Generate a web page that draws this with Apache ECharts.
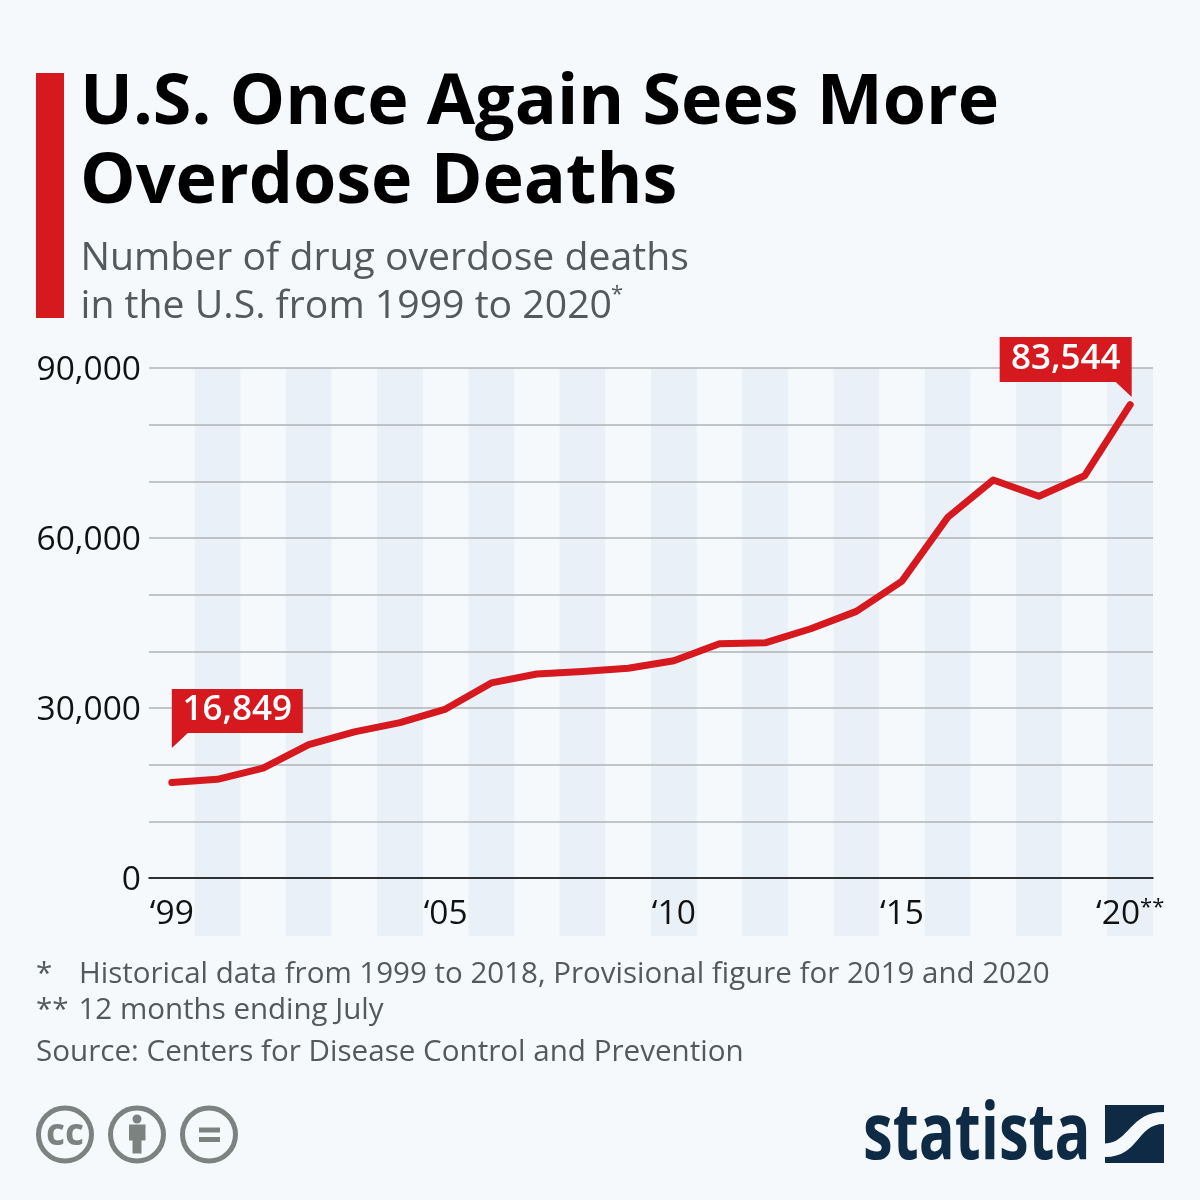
<!DOCTYPE html>
<html>
<head>
<meta charset="utf-8">
<title>U.S. Once Again Sees More Overdose Deaths</title>
<script src="https://cdn.jsdelivr.net/npm/echarts@6/dist/echarts.min.js"></script>
<style>
html, body { margin: 0; padding: 0; background: #f5f9fc; }
#main { width: 1200px; height: 1200px; }
</style>
</head>
<body>
<div id="main"></div>
<script>
var years = ['1999', '2000', '2001', '2002', '2003', '2004', '2005', '2006', '2007', '2008', '2009',
	'2010', '2011', '2012', '2013', '2014', '2015', '2016', '2017', '2018', '2019', '2020'];
var deaths = [16849, 17415, 19394, 23518, 25785, 27424, 29813, 34425, 36010, 36450, 37004,
	38329, 41340, 41502, 43982, 47055, 52404, 63632, 70237, 67367, 70980, 83544];
var xTickLabels = { '1999': '‘99', '2005': '‘05', '2010': '‘10', '2015': '‘15', '2020': '‘20' };
var yTickLabels = { 0: '0', 30000: '30,000', 60000: '60,000', 90000: '90,000' };

var RED = '#d6181f';
var NAVY = '#0f2a44';
var ICON = '#7c8280';
var GREY = '#54595c';
var FONT = '"Open Sans"';

//logo mark, graphic has no plain path type so register it as a shape
echarts.graphic.registerShape('statistaMark', echarts.graphic.extendPath(
	'M1105 1105H1164V1112C1130 1112 1129 1143 1105 1143.5Z M1164 1124V1163H1105V1157C1140 1157 1136 1124 1164 1124Z', {}
));

var myChart = echarts.init(document.getElementById('main'), null, { renderer: 'canvas' });

function text(x, y, str, size, color, weight) {
	return {
		type: 'text', x: x, y: y, z: 10,
		style: { text: str, fill: color, font: (weight || 'normal') + ' ' + size + 'px ' + FONT, textVerticalAlign: 'middle' }
	};
}

function ring(cx) {
	return { type: 'circle', z: 10, shape: { cx: cx, cy: 1134.5, r: 26.5 }, style: { fill: 'none', stroke: ICON, lineWidth: 5 } };
}

var graphics = [
	{ type: 'rect', z: 10, shape: { x: 36, y: 73, width: 28, height: 245 }, style: { fill: RED } },
	text(80, 104, 'U.S. Once Again Sees More', 70, '#000', 'bold'),
	text(80, 183, 'Overdose Deaths', 70, '#000', 'bold'),
	text(80.5, 259, 'Number of drug overdose deaths', 39.2, GREY),
	text(80.5, 307, 'in the U.S. from 1999 to 2020', 39.2, GREY),
	text(611, 295, '*', 22, GREY),
	text(36, 975, '*', 29.5, GREY),
	text(79, 975, 'Historical data from 1999 to 2018, Provisional figure for 2019 and 2020', 29.5, GREY),
	text(36, 1011, '**', 29.5, GREY),
	text(78.5, 1011, '12 months ending July', 29.5, GREY),
	text(36, 1053, 'Source: Centers for Disease Control and Prevention', 29.6, GREY),
	// cc icons
	ring(65), ring(137), ring(209),
	text(46, 1134, 'cc', 37, ICON, 'bold'),
	{ type: 'circle', z: 10, shape: { cx: 137, cy: 1119, r: 4.5 }, style: { fill: ICON } },
	{ type: 'rect', z: 10, shape: { x: 129, y: 1124.5, width: 16.5, height: 16 }, style: { fill: ICON } },
	{ type: 'rect', z: 10, shape: { x: 132.5, y: 1140, width: 9, height: 13.5 }, style: { fill: ICON } },
	{ type: 'rect', z: 10, shape: { x: 199, y: 1127.5, width: 21, height: 5 }, style: { fill: ICON } },
	{ type: 'rect', z: 10, shape: { x: 199, y: 1137, width: 21, height: 5 }, style: { fill: ICON } },
	// statista logo
	{
		type: 'text', x: 863, y: 1136, z: 10, scaleX: 0.83, scaleY: 1.1,
		style: { text: 'statista', fill: NAVY, font: 'bold 72px "Open Sans"', textVerticalAlign: 'middle' }
	},
	{ type: 'statistaMark', z: 10, style: { fill: NAVY } }
];

myChart.setOption({
	backgroundColor: '#f5f9fc',
	animation: false,
	grid: [
		// stripes run below the zero line, so they get their own taller grid
		{ left: 149, right: 47, top: 368, height: 568 },
		{ left: 149, right: 47, top: 368, height: 510 }
	],
	xAxis: [
		{
			gridIndex: 0, type: 'category', data: years, boundaryGap: true, z: 0,
			axisLine: { show: false }, axisTick: { show: false }, axisLabel: { show: false },
			splitLine: { show: false },
			splitArea: { show: true, interval: 0, areaStyle: { color: ['rgba(0,0,0,0)', '#eaf0f7'] } }
		},
		{
			gridIndex: 1, type: 'category', data: years, boundaryGap: true, z: 3,
			axisLine: { show: true, onZero: true, lineStyle: { color: '#000', width: 1.5 } },
			axisTick: { show: false },
			splitLine: { show: false },
			axisLabel: {
				interval: 0,
				margin: 19,
				hideOverlap: false,
				color: '#111',
				fontFamily: FONT,
				fontSize: 33.5,
				formatter: function (v) {
					if (!xTickLabels[v]) return '';
					return v === '2020' ? '{a|' + xTickLabels[v] + '}{s|**}' : xTickLabels[v];
				},
				rich: {
					a: { fontFamily: FONT, fontSize: 33.5, color: '#111' },
					s: { fontFamily: FONT, fontSize: 22, color: '#111', verticalAlign: 'top', padding: [0, 0, 8, 0] }
				}
			}
		}
	],
	yAxis: [
		{ gridIndex: 0, type: 'value', min: 0, max: 1, show: false },
		{
			gridIndex: 1, type: 'value', min: 0, max: 90000, interval: 10000, z: 2,
			axisLine: { show: false }, axisTick: { show: false },
			splitLine: { show: true, lineStyle: { color: '#aeb3b7', width: 1.5 } },
			axisLabel: {
				margin: 8,
				formatter: function (v) { return yTickLabels[v] ? '{n|' + yTickLabels[v] + '}' : ''; },
				rich: {
					// the padding pushes the digits down to sit on the gridline
					n: { fontFamily: FONT, fontSize: 33.5, color: '#111', padding: [5, 0, 0, 0] }
				}
			}
		}
	],
	series: [
		{ type: 'line', xAxisIndex: 0, yAxisIndex: 0, data: [], silent: true },
		{
			name: 'Overdose deaths',
			type: 'line',
			xAxisIndex: 1,
			yAxisIndex: 1,
			data: deaths,
			showSymbol: false,
			smooth: false,
			clip: false,
			z: 5,
			lineStyle: { color: RED, width: 7, cap: 'round', join: 'round' },
			markPoint: {
				silent: true,
				z: 6,
				data: [
					{
						coord: [years[0], deaths[0]],
						symbol: 'path://M0 0H131V44H16L0 59Z',
						symbolSize: [131, 59],
						symbolOffset: [65.5, -64],
						itemStyle: { color: RED },
						label: { show: true, position: 'inside', offset: [0, -8], formatter: deaths[0].toLocaleString('en-US'), color: '#fff', fontFamily: FONT, fontWeight: 600, fontSize: 35 }
					},
					{
						coord: [years[21], deaths[21]],
						symbol: 'path://M0 0H132V60L116 45H0Z',
						symbolSize: [132, 60],
						symbolOffset: [-64.5, -37.5],
						itemStyle: { color: RED },
						label: { show: true, position: 'inside', offset: [0, -8], formatter: deaths[21].toLocaleString('en-US'), color: '#fff', fontFamily: FONT, fontWeight: 600, fontSize: 35 }
					}
				]
			}
		}
	],
	graphic: graphics
});
</script>
</body>
</html>
